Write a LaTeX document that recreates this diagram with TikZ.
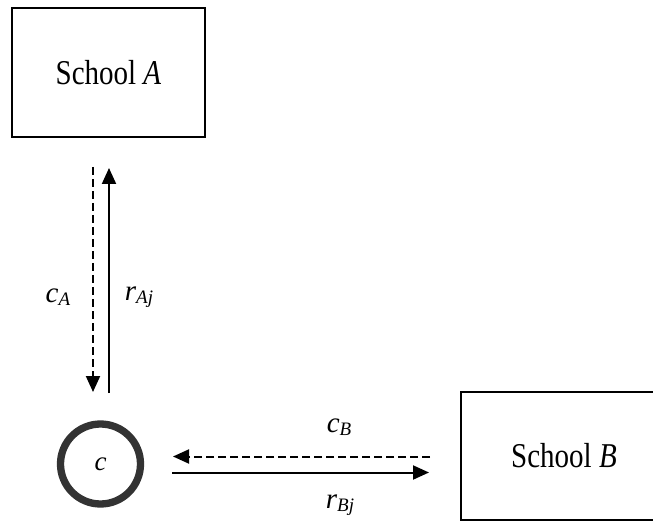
\documentclass[tikz,border=0pt]{standalone}
\usepackage{fontspec}
\setmainfont{Liberation Serif}
\usetikzlibrary{arrows.meta}
\newcommand{\lblsub}[2]{\textit{#1}\raisebox{-0.12em}{\fontsize{19}{19}\selectfont\textit{#2}}}
\newcommand{\tallword}[1]{\scalebox{1}[1.2]{#1}}
\begin{document}
\begin{tikzpicture}[x=1pt,y=-1pt,
  box/.style={draw,line width=2pt,minimum width=193pt,minimum height=129pt,inner sep=0pt,font=\fontsize{29}{34}\selectfont},
  lbl/.style={inner sep=0pt,font=\fontsize{29}{34}\selectfont},
  solidarrow/.style={line width=2pt,-{Triangle[length=16pt,width=14pt]}},
  dasharrow/.style={line width=2pt,dash pattern=on 8pt off 4pt,-{Triangle[length=16pt,width=14pt]}}]
\useasboundingbox (0,0) rectangle (653,521);
\clip (0,0) rectangle (653,521);
\node[box] (A) at (108.5,72.5) {\tallword{School \textit{A}}};
\node[box,minimum width=206pt,minimum height=128pt] (B) at (564,456) {\tallword{School \textit{B}}};
\node[circle,draw=black!80,line width=7.3pt,minimum size=80pt,inner sep=0pt,font=\fontsize{27}{30}\selectfont] (c) at (100.5,464) {\textit{c}};
% vertical connectors
\coordinate (a1) at (93,167);
\coordinate (a2) at (93,392);
\coordinate (a3) at (109,393);
\coordinate (a4) at (109,168);
\draw[dasharrow] (a1) -- (a2);
\draw[solidarrow] (a3) -- (a4);
% horizontal connectors
\coordinate (b1) at (430,456.5);
\coordinate (b2) at (173,456.5);
\coordinate (b3) at (172,472.5);
\coordinate (b4) at (429,472.5);
\draw[dasharrow] (b1) -- (b2);
\draw[solidarrow] (b3) -- (b4);
% labels
\node[lbl] (lcA) at (58,297) {\lblsub{c}{A}};
\node[lbl] (lrA) at (139,297) {\lblsub{r}{Aj}};
\node[lbl] (lcB) at (339,427) {\lblsub{c}{B}};
\node[lbl] (lrB) at (340,505) {\lblsub{r}{Bj}};
\end{tikzpicture}
\end{document}
